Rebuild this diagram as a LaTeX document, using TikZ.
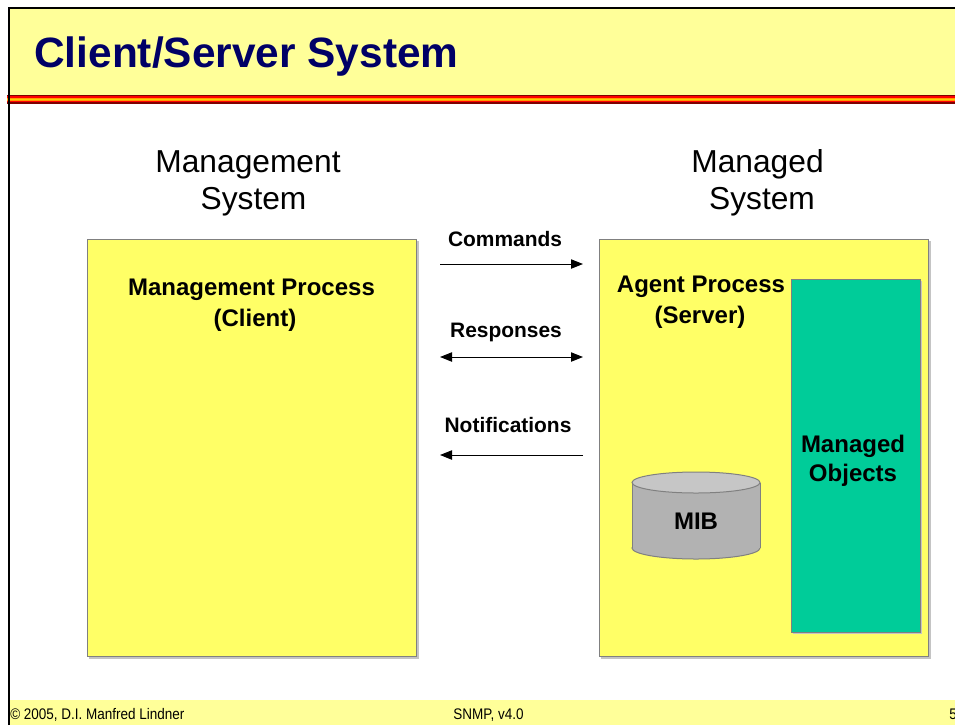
\documentclass[tikz,border=0pt]{standalone}
\usepackage{fontspec}
\setmainfont{Liberation Sans}
\usetikzlibrary{arrows.meta}

\definecolor{bandyellow}{HTML}{FFFF99}
\definecolor{boxyellow}{HTML}{FFFF66}
\definecolor{objgreen}{HTML}{00CC99}
\definecolor{titleblue}{HTML}{000066}
\definecolor{edgegray}{HTML}{808080}
\definecolor{shadowgray}{HTML}{C4C4C4}
\definecolor{mibbody}{HTML}{B2B2B2}
\definecolor{mibtop}{HTML}{C6C6C6}
\definecolor{stripemaroon}{HTML}{800000}
\definecolor{stripered}{HTML}{FF0000}
\definecolor{stripeorange}{HTML}{FF9900}
\definecolor{stripeyellow}{HTML}{FFCC00}

\begin{document}
\begin{tikzpicture}[x=0.75pt, y=-0.75pt,
  txt/.style={inner sep=0pt, anchor=base},
  heading/.style={txt, font=\fontsize{23.8}{28}\selectfont},
  boxlabel/.style={txt, font=\bfseries\fontsize{18}{21}\selectfont},
  arrowlabel/.style={txt, font=\bfseries\fontsize{15.7}{18}\selectfont},
  footer/.style={inner sep=0pt, anchor=base west, font=\fontsize{11.5}{13}\selectfont},
  panel/.style={draw=edgegray, line width=0.75pt, fill=boxyellow, anchor=north west, inner sep=0pt},
  objpanel/.style={draw=edgegray, line width=0.75pt, fill=objgreen, anchor=north west, inner sep=0pt},
  tip/.tip={Triangle[length=9pt,width=7pt]},
  link/.style={line width=0.75pt, -tip},
  duallink/.style={line width=0.75pt, tip-tip}
]
\useasboundingbox (0,0) rectangle (955,725);
\clip (0,0) rectangle (955,725);

% title band and coloured rule beneath it
\fill[bandyellow] (9,9) rectangle (955,95);
\fill[stripemaroon] (7,95) rectangle (955,96);
\fill[stripered]    (7,96) rectangle (955,97.5);
\fill[stripeorange] (7,97.5) rectangle (955,98.7);
\fill[stripeyellow] (7,98.7) rectangle (955,100);
\fill[stripeorange] (7,100) rectangle (955,101.2);
\fill[stripered]    (7,101.2) rectangle (955,102.4);
\fill[stripemaroon] (7,102.4) rectangle (955,103.8);

\node[inner sep=0pt, anchor=base west, text=titleblue,
      font=\bfseries\fontsize{31.8}{36}\selectfont] (title) at (34,67) {Client/Server System};

% footer band
\fill[bandyellow] (9,700) rectangle (955,725);
\node[footer] (copy) at (10,719) {\scalebox{0.88}[1]{© 2005, D.I. Manfred Lindner}};
\node[footer] (ver) at (453,719) {\scalebox{0.88}[1]{SNMP, v4.0}};
\node[footer] (page) at (949,719) {\scalebox{0.88}[1]{5}};

% page frame
\draw[line width=1.5pt] (9,725) -- (9,8) -- (955,8);

% column headings
\node[heading] (hmgmt1) at (248,172.5) {Management};
\node[heading] (hmgmt2) at (253.5,209) {System};
\node[heading] (hmgd1) at (757.5,172.5) {Managed};
\node[heading] (hmgd2) at (762,209) {System};

% management station
\fill[shadowgray] (89,241) rectangle (418.5,658.5);
\node[panel, minimum width=329*0.75pt, minimum height=417*0.75pt] (mgr) at (87,239) {};
\node[boxlabel] (mgrl1) at (251.5,295) {Management Process};
\node[boxlabel] (mgrl2) at (255,326) {(Client)};

% managed station
\fill[shadowgray] (601,241) rectangle (930.5,658.5);
\node[panel, minimum width=329*0.75pt, minimum height=417*0.75pt] (agt) at (599,239) {};
\node[boxlabel] (agtl1) at (701,292) {Agent Process};
\node[boxlabel] (agtl2) at (700,323) {(Server)};

% managed objects
\fill[shadowgray] (792.5,280.5) rectangle (921.5,633.5);
\node[objpanel, minimum width=129*0.75pt, minimum height=353*0.75pt] (objs) at (791,279) {};
\node[boxlabel] (objl1) at (853,452) {Managed};
\node[boxlabel] (objl2) at (853,481) {Objects};

% MIB store
\draw[draw=edgegray, fill=mibbody, line width=0.75pt] (696,548) ellipse [x radius=64, y radius=11];
\fill[mibbody] (632,482.5) rectangle (760,548);
\draw[edgegray, line width=0.75pt] (632,482.5) -- (632,548) (760,482.5) -- (760,548);
\draw[draw=edgegray, fill=mibtop, line width=0.75pt] (696,482.5) ellipse [x radius=64, y radius=10.5];
\node[boxlabel] (mib) at (696,529.5) {MIB};

% message flows
\coordinate (cmdA) at (440,264);
\coordinate (cmdB) at (583,264);
\coordinate (rspA) at (440,357);
\coordinate (rspB) at (583,357);
\coordinate (ntfA) at (583,455);
\coordinate (ntfB) at (440,455);

\node[arrowlabel] (cmdl) at (505,246.5) {Commands};
\node[arrowlabel] (rspl) at (506,337) {Responses};
\node[arrowlabel] (ntfl) at (508,432) {Notifications};

\draw[link] (cmdA) -- (cmdB);
\draw[duallink] (rspA) -- (rspB);
\draw[link] (ntfA) -- (ntfB);
\end{tikzpicture}
\end{document}
